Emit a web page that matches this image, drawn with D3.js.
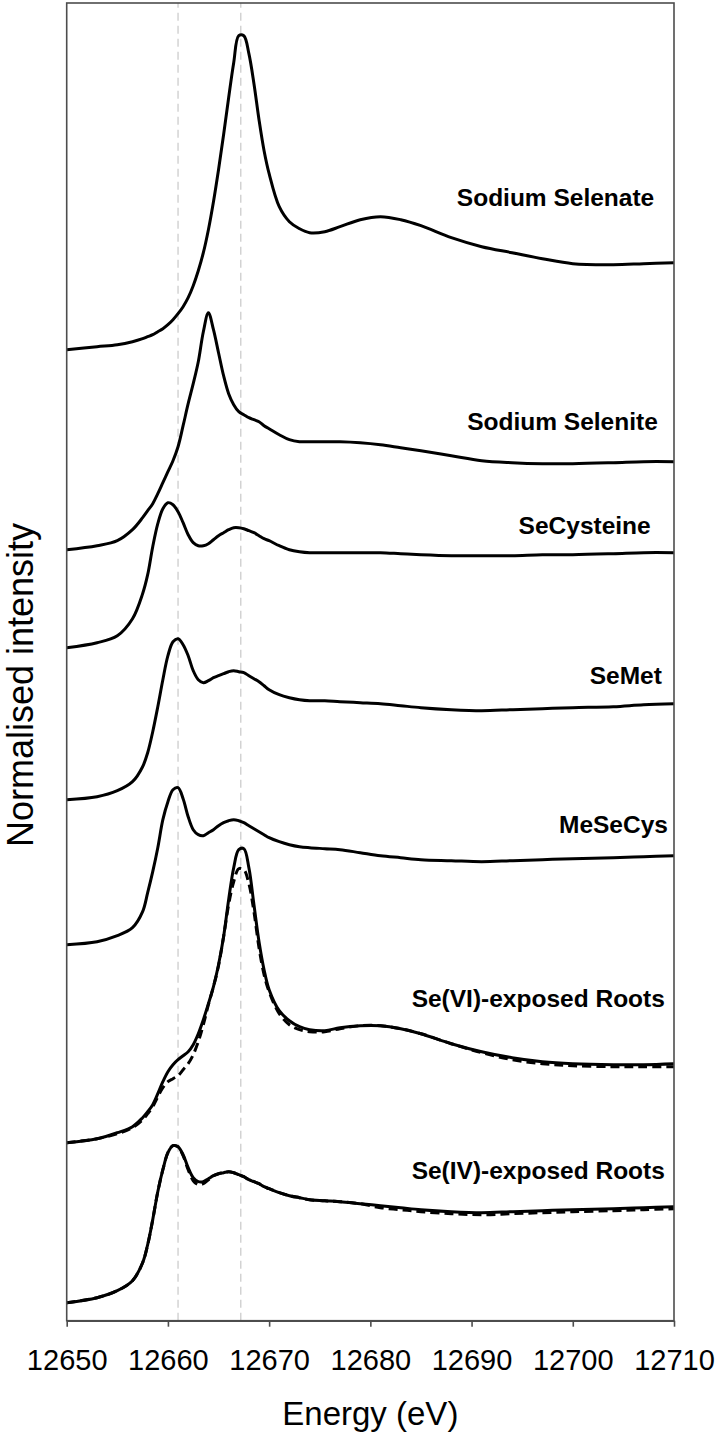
<!DOCTYPE html>
<html>
<head>
<meta charset="utf-8">
<script src="https://cdn.jsdelivr.net/npm/d3@7"></script>
<style>
  body { margin: 0; background: #fff; }
  svg { display: block; font-family: "Liberation Sans", Arial, sans-serif; }
</style>
</head>
<body>
<svg id="chart"></svg>
<script>
// energy grid (eV), shared by every spectrum
const energy = [
  12650, 12653, 12655, 12656.5, 12657.5, 12658, 12658.5, 12659, 12659.5, 12660, 12660.5,
  12661, 12661.5, 12662, 12662.5, 12663, 12663.5, 12664, 12664.5, 12665, 12665.5,
  12666, 12666.5, 12667, 12667.5, 12668, 12668.5, 12669, 12669.5, 12670, 12671,
  12672, 12673, 12674, 12675.5, 12677, 12679, 12681, 12683, 12685, 12688,
  12691, 12694, 12697, 12700, 12704, 12707, 12710
]

// normalised intensity of each spectrum above its own pre-edge
const sodiumSelenate = [
  0, 0.03, 0.05, 0.08, 0.11, 0.13, 0.15, 0.18, 0.21, 0.25, 0.30,
  0.36, 0.43, 0.52, 0.64, 0.79, 0.97, 1.20, 1.48, 1.80, 2.15,
  2.52, 2.87, 3.14, 3.14, 2.96, 2.66, 2.30, 1.99, 1.76, 1.43,
  1.28, 1.21, 1.17, 1.18, 1.23, 1.30, 1.33, 1.30, 1.24, 1.12,
  1.03, 0.97, 0.91, 0.86, 0.85, 0.86, 0.87
]
const sodiumSelenite = [
  0, 0.04, 0.09, 0.20, 0.32, 0.39, 0.46, 0.56, 0.67, 0.78, 0.89,
  1.03, 1.24, 1.46, 1.66, 1.88, 2.18, 2.37, 2.20, 1.97, 1.74,
  1.56, 1.45, 1.38, 1.35, 1.32, 1.30, 1.28, 1.24, 1.21, 1.15,
  1.10, 1.08, 1.08, 1.08, 1.08, 1.07, 1.05, 1.02, 0.99, 0.94,
  0.89, 0.87, 0.86, 0.86, 0.87, 0.88, 0.88
]
const seCysteine = [
  0, 0.05, 0.12, 0.29, 0.54, 0.73, 1.01, 1.24, 1.39, 1.45, 1.43,
  1.36, 1.25, 1.13, 1.05, 1.02, 1.02, 1.04, 1.08, 1.12, 1.15,
  1.18, 1.20, 1.20, 1.19, 1.17, 1.15, 1.12, 1.09, 1.07, 1.02,
  0.98, 0.96, 0.95, 0.95, 0.95, 0.95, 0.95, 0.94, 0.93, 0.92,
  0.92, 0.92, 0.93, 0.93, 0.94, 0.95, 0.95
]
const seMet = [
  0, 0.03, 0.09, 0.18, 0.33, 0.47, 0.68, 0.93, 1.20, 1.44, 1.58,
  1.61, 1.55, 1.44, 1.29, 1.20, 1.17, 1.19, 1.22, 1.24, 1.26,
  1.28, 1.29, 1.28, 1.27, 1.24, 1.21, 1.18, 1.14, 1.10, 1.05,
  1.02, 1.00, 0.99, 0.99, 0.98, 0.97, 0.96, 0.94, 0.92, 0.90,
  0.89, 0.90, 0.91, 0.92, 0.93, 0.95, 0.96
]
const meSeCys = [
  0, 0.03, 0.09, 0.17, 0.33, 0.52, 0.73, 0.97, 1.25, 1.43, 1.55,
  1.57, 1.46, 1.28, 1.15, 1.10, 1.09, 1.12, 1.15, 1.19, 1.22,
  1.24, 1.25, 1.24, 1.22, 1.19, 1.16, 1.13, 1.10, 1.07, 1.03,
  1.00, 0.98, 0.97, 0.96, 0.95, 0.92, 0.89, 0.87, 0.85, 0.84,
  0.83, 0.84, 0.85, 0.86, 0.87, 0.88, 0.89
]
const seVIRoots = [
  0, 0.04, 0.10, 0.16, 0.25, 0.31, 0.38, 0.49, 0.61, 0.71, 0.78,
  0.83, 0.87, 0.91, 0.98, 1.09, 1.23, 1.39, 1.56, 1.78, 2.06,
  2.43, 2.75, 2.93, 2.94, 2.75, 2.38, 2.01, 1.73, 1.53, 1.32,
  1.22, 1.16, 1.13, 1.12, 1.15, 1.17, 1.17, 1.14, 1.09, 0.99,
  0.91, 0.85, 0.81, 0.79, 0.78, 0.78, 0.79
]
const seVIRootsFit = [
  0, 0.04, 0.09, 0.15, 0.23, 0.29, 0.36, 0.46, 0.55, 0.61, 0.64,
  0.67, 0.73, 0.79, 0.88, 1.01, 1.18, 1.38, 1.56, 1.77, 2.06,
  2.38, 2.61, 2.74, 2.73, 2.59, 2.31, 1.95, 1.68, 1.51, 1.29,
  1.18, 1.13, 1.11, 1.11, 1.14, 1.17, 1.17, 1.14, 1.09, 0.99,
  0.90, 0.83, 0.79, 0.77, 0.76, 0.76, 0.76
]
const seIVRoots = [
  0, 0.05, 0.12, 0.22, 0.40, 0.58, 0.83, 1.11, 1.33, 1.50, 1.57,
  1.56, 1.48, 1.35, 1.25, 1.21, 1.21, 1.24, 1.27, 1.29, 1.30,
  1.31, 1.30, 1.28, 1.26, 1.23, 1.21, 1.19, 1.16, 1.14, 1.10,
  1.07, 1.05, 1.03, 1.02, 1.01, 0.99, 0.97, 0.95, 0.93, 0.91,
  0.90, 0.91, 0.92, 0.93, 0.94, 0.95, 0.96
]
const seIVRootsFit = [
  0, 0.05, 0.12, 0.22, 0.40, 0.58, 0.83, 1.11, 1.33, 1.50, 1.57,
  1.56, 1.47, 1.33, 1.22, 1.18, 1.19, 1.23, 1.27, 1.29, 1.30,
  1.31, 1.30, 1.28, 1.26, 1.23, 1.21, 1.19, 1.16, 1.14, 1.10,
  1.07, 1.05, 1.03, 1.02, 1.01, 0.99, 0.95, 0.93, 0.91, 0.89,
  0.88, 0.89, 0.90, 0.91, 0.92, 0.93, 0.94
]

const names = ["Sodium Selenate", "Sodium Selenite", "SeCysteine", "SeMet",
  "MeSeCys", "Se(VI)-exposed Roots", "Se(IV)-exposed Roots"]
const offsets = [9.71, 7.71, 6.73, 5.21, 3.76, 1.78, 0.18]
// label anchor (right end) in data units
const labelX = [12708.05, 12708.4, 12707.7, 12708.8, 12709.4, 12709.1, 12709.1]
const labelY = [11.15, 8.91, 7.87, 6.37, 4.88, 3.14, 1.42]

const xTicks = [12650, 12660, 12670, 12680, 12690, 12700, 12710]
const refLines = [12661, 12667.2]

const solid = [sodiumSelenate, sodiumSelenite, seCysteine, seMet, meSeCys, seVIRoots, seIVRoots]
const fits = [null, null, null, null, null, seVIRootsFit, seIVRootsFit]

let svgWidth = 717, svgHeight = 1435
let plotLeft = 66.7, plotRight = 674, plotTop = 3, plotBottom = 1320.7

let svg = d3.select('#chart')
    .attr('width', svgWidth)
    .attr('height', svgHeight)

let x = d3.scaleLinear().domain([12650, 12710]).range([plotLeft, plotRight])
let y = d3.scaleLinear().domain([0, 13.177]).range([plotBottom, plotTop])

// reference lines
svg.selectAll('.ref')
    .data(refLines)
    .enter()
    .append('line')
    .attr('x1', d => x(d))
    .attr('x2', d => x(d))
    .attr('y1', y(0))
    .attr('y2', y(13.177))
    .attr('stroke', '#c8c8c8')
    .attr('stroke-width', 1.2)
    .attr('stroke-dasharray', '8,5')

let line = function(off) {
    return d3.line()
        .x((d, i) => x(energy[i]))
        .y(d => y(d + off))
        .curve(d3.curveCatmullRom.alpha(0.5))
}

solid.forEach(function(vals, k) {
    svg.append('path')
        .attr('d', line(offsets[k])(vals))
        .attr('fill', 'none')
        .attr('stroke', '#000')
        .attr('stroke-width', 3)
        .attr('stroke-linejoin', 'round')
})

fits.forEach(function(vals, k) {
    if (!vals) return
    svg.append('path')
        .attr('d', line(offsets[k])(vals))
        .attr('fill', 'none')
        .attr('stroke', '#000')
        .attr('stroke-width', 3)
        .attr('stroke-dasharray', '9,5')
})

// labels
svg.selectAll('.lab')
    .data(names)
    .enter()
    .append('text')
    .attr('x', (d, i) => x(labelX[i]))
    .attr('y', (d, i) => y(labelY[i]))
    .attr('text-anchor', 'end')
    .attr('font-weight', 'bold')
    .attr('font-size', '24.5px')
    .attr('fill', '#000')
    .text(d => d)

// frame
svg.append('rect')
    .attr('x', plotLeft)
    .attr('y', plotTop)
    .attr('width', plotRight - plotLeft)
    .attr('height', plotBottom - plotTop)
    .attr('fill', 'none')
    .attr('stroke', '#4d4d4d')
    .attr('stroke-width', 1.6)

// x axis
let xAxis = svg.append('g')
    .attr('transform', 'translate(0,' + plotBottom + ')')
    .call(d3.axisBottom(x).tickValues(xTicks).tickFormat(d3.format('d')).tickSize(6).tickSizeOuter(0))
xAxis.select('.domain').attr('stroke', '#4d4d4d').attr('stroke-width', 1.6)
xAxis.selectAll('.tick line').attr('stroke', '#4d4d4d').attr('stroke-width', 1.6)
xAxis.selectAll('.tick text')
    .attr('y', 49)
    .attr('dy', 0)
    .attr('font-size', '29px')
    .attr('font-family', '"Liberation Sans", Arial, sans-serif')
    .attr('fill', '#000')

svg.append('text')
    .attr('x', (plotLeft + plotRight) / 2)
    .attr('y', 1425)
    .attr('text-anchor', 'middle')
    .attr('font-size', '33px')
    .text('Energy (eV)')

svg.append('text')
    .attr('transform', 'translate(33,' + 685 + ') rotate(-90)')
    .attr('text-anchor', 'middle')
    .attr('font-size', '36px')
    .text('Normalised intensity')
</script>
</body>
</html>
